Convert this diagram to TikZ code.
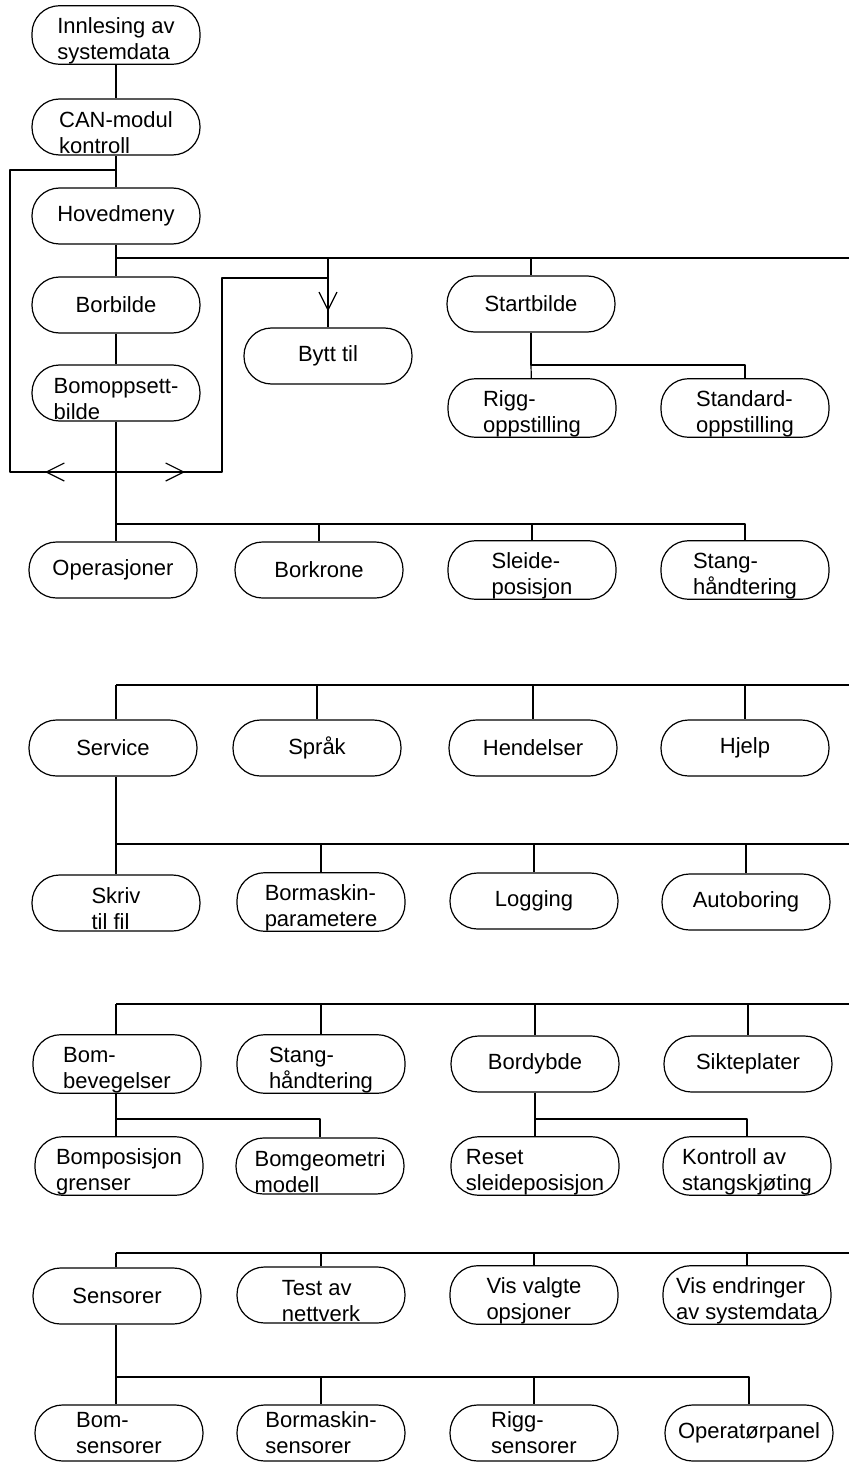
\documentclass[tikz,border=0pt]{standalone}
\usepackage{fontspec}
\setmainfont{Liberation Sans}
\usetikzlibrary{arrows.meta}
\newcommand\lowtxt{\rule{0pt}{28pt}}

\begin{document}
\begin{tikzpicture}[
	x=1pt,y=-1pt,
	>={Straight Barb[length=18pt,width=18pt]},
	line width=1.2pt,
	line join=round,
	menu/.style={draw,rectangle,rounded corners=27.5pt,minimum width=168pt,minimum height=56pt,inner sep=0pt,align=left,font=\fontsize{22}{26}\selectfont}
	]
	\useasboundingbox (0,0) rectangle (849,1463);
	% hovedmeny
	\node[menu] (innl) at (116,35) {\lowtxt Innlesing av\\systemdata};
	\node[menu] (can) at (116,127) {\lowtxt CAN-modul\\kontroll};
	\node[menu] (hoved) at (116,216) {Hovedmeny};
	\node[menu] (borbilde) at (116,305) {Borbilde};
	\node[menu] (bomopp) at (116,393) {\lowtxt Bomoppsett-\\bilde};
	\node[menu] (bytt) at (328,356) {Bytt til};
	\node[menu] (start) at (531,304) {Startbilde};
	\node[menu] (rigg) at (532,408) {\lowtxt Rigg-\\oppstilling};
	\node[menu] (standard) at (745,408) {\lowtxt Standard-\\oppstilling};
	\node[menu] (oper) at (113,570) {Operasjoner};
	\node[menu] (borkrone) at (319,570) {Borkrone};
	\node[menu] (sleide) at (532,570) {\lowtxt Sleide-\\posisjon};
	\node[menu] (stang) at (745,570) {\lowtxt Stang-\\håndtering};
	% service
	\node[menu] (service) at (113,748) {Service};
	\node[menu] (spraak) at (317,748) {Språk};
	\node[menu] (hend) at (533,748) {Hendelser};
	\node[menu] (hjelp) at (745,748) {Hjelp};
	\node[menu] (skriv) at (116,903) {\lowtxt Skriv\\til fil};
	\node[menu] (bormpar) at (321,902) {\lowtxt Bormaskin-\\parametere};
	\node[menu] (logging) at (534,901) {Logging};
	\node[menu] (autob) at (746,902) {Autoboring};
	\node[menu] (bombev) at (117,1064) {\lowtxt Bom-\\bevegelser};
	\node[menu] (stang2) at (321,1064) {\lowtxt Stang-\\håndtering};
	\node[menu] (bordybde) at (535,1064) {Bordybde};
	\node[menu] (sikte) at (748,1064) {Sikteplater};
	\node[menu] (bompos) at (119,1166) {\lowtxt Bomposisjon\\grenser};
	\node[menu] (bomgeo) at (320,1166) {\lowtxt Bomgeometri\\modell};
	\node[menu] (reset) at (535,1166) {\lowtxt Reset\\sleideposisjon};
	\node[menu] (kontroll) at (747,1166) {\lowtxt Kontroll av\\stangskjøting};
	\node[menu] (sensorer) at (117,1296) {Sensorer};
	\node[menu] (test) at (321,1295) {\lowtxt Test av\\nettverk};
	\node[menu] (visvalgte) at (534,1295) {\lowtxt Vis valgte\\opsjoner};
	\node[menu] (visendr) at (747,1295) {\lowtxt Vis endringer\\av systemdata};
	\node[menu] (bomsens) at (119,1433) {Bom-\\sensorer};
	\node[menu] (bormsens) at (321,1433) {Bormaskin-\\sensorer};
	\node[menu] (riggsens) at (534,1433) {Rigg-\\sensorer};
	\node[menu] (operpanel) at (749,1433) {Operatørpanel};

	\coordinate (loopn) at (116,170);
	\coordinate (loopnw) at (10,170);
	\coordinate (loopsw) at (10,472);
	\coordinate (loopse) at (222,472);
	\coordinate (loopne) at (222,278);
	\coordinate (b1) at (116,258);
	\coordinate (b1e) at (849,258);
	\coordinate (b2) at (116,524);
	\coordinate (b3) at (116,685);
	\coordinate (b3e) at (849,685);
	\coordinate (b4) at (116,844);
	\coordinate (b4e) at (849,844);
	\coordinate (b5) at (116,1004);
	\coordinate (b5e) at (849,1004);
	\coordinate (b6) at (116,1119);
	\coordinate (b7) at (116,1253);
	\coordinate (b7e) at (849,1253);
	\coordinate (b8) at (116,1377);

	\draw (innl) -- (can);
	\draw (can) -- (hoved);
	\draw (hoved) -- (borbilde);
	\draw (borbilde) -- (bomopp);
	\draw (b1) -- (b1e);
	\draw (start.north |- b1) -- (start);
	\draw (start) -- (start |- 0,365) -| (standard);
	\draw (start |- 0,365) -- (rigg);
	\draw (bytt.north |- b1) -- (bytt);
	\draw[->] (bytt.north |- b1) -- ([yshift=16pt]bytt.north);
	\draw (loopn) -- (loopnw) -- (loopsw) -- (loopse) -- (loopne) -- (bytt.north |- loopne);
	\draw[->] (bomopp.south |- loopsw) -- (45,472);
	\draw[->] (bomopp.south |- loopsw) -- (185,472);
	\draw (bomopp) -- (b2) -| (stang);
	\draw (b2) -- (b2 |- oper.north);
	\foreach \n in {borkrone,sleide}
		\draw (\n.north |- b2) -- (\n);

	\draw (b3) -- (b3e);
	\draw (b3) -- (b3 |- service.north);
	\foreach \n in {spraak,hend,hjelp}
		\draw (\n.north |- b3) -- (\n);
	\draw (b4 |- service.south) -- (b4) -- (b4e);
	\draw (b4) -- (skriv);
	\foreach \n in {bormpar,logging,autob}
		\draw (\n.north |- b4) -- (\n);

	\draw (b5) -- (b5e);
	\draw (b5) -- (b5 |- bombev.north);
	\foreach \n in {stang2,bordybde,sikte}
		\draw (\n.north |- b5) -- (\n);
	\draw (b6 |- bombev.south) -- (b6) -| (bomgeo);
	\draw (b6) -- (b6 |- bompos.north);
	\draw (bordybde) -- (bordybde |- b6) -| (kontroll);
	\draw (bordybde |- b6) -- (reset);

	\draw (b7) -- (b7e);
	\draw (b7) -- (b7 |- sensorer.north);
	\foreach \n in {test,visvalgte,visendr}
		\draw (\n.north |- b7) -- (\n);
	\draw (b8 |- sensorer.south) -- (b8) -| (operpanel);
	\draw (b8) -- (b8 |- bomsens.north);
	\foreach \n in {bormsens,riggsens}
		\draw (\n.north |- b8) -- (\n);
\end{tikzpicture}
\end{document}
